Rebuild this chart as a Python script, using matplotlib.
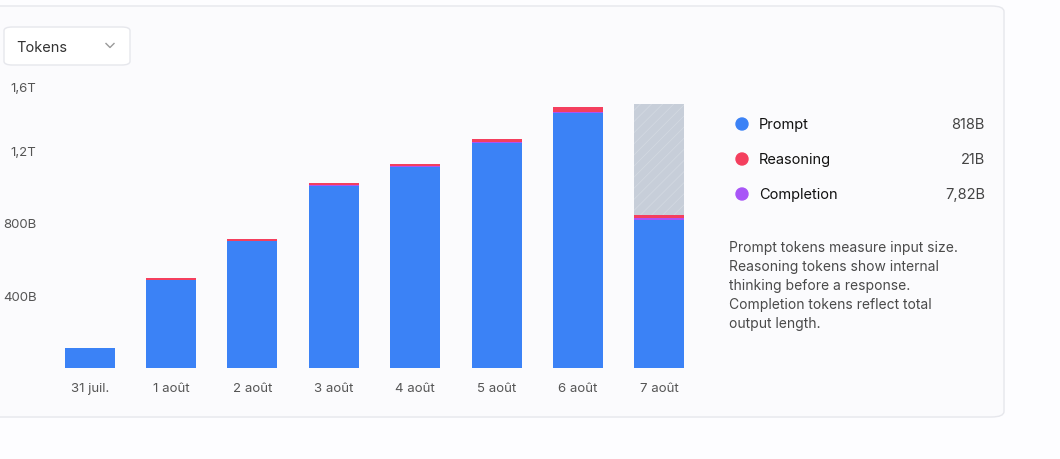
import numpy as np
import matplotlib.pyplot as plt
from matplotlib.patches import FancyBboxPatch, Ellipse
from matplotlib.transforms import ScaledTranslation

plt.rcParams['font.family'] = ['Inter', 'DejaVu Sans']

days = ["31 juil.", "1 août", "2 août", "3 août", "4 août", "5 août", "6 août", "7 août"]
prompt = [110, 483, 700, 1005, 1108, 1240, 1405, 818]        # billions
reasoning = [2, 9, 10, 12, 15, 20, 27, 21]
completion = [1, 2, 3, 4, 4, 5, 6, 7.82]
projected_total = [0, 0, 0, 0, 0, 0, 0, 1455]              # forecast for current day

y_ticks = [400, 800, 1200, 1600]
y_labels = ["400B", "800B", "1,2T", "1,6T"]

legend_names = ["Prompt", "Reasoning", "Completion"]
legend_values = ["818B", "21B", "7,82B"]
legend_colors = ["#3b82f6", "#f43f5e", "#a855f7"]

description = ("Prompt tokens measure input size.\n"
               "Reasoning tokens show internal\n"
               "thinking before a response.\n"
               "Completion tokens reflect total\n"
               "output length.")

W, H = 1060, 460
fig = plt.figure(figsize=(W / 100, H / 100), dpi=100)
fig.patch.set_facecolor("#fdfdff")

# card background
card = FancyBboxPatch((-20 / W, (H - 418) / H), 1024 / W, 411 / H,
                      boxstyle="round,pad=0,rounding_size=0.012",
                      transform=fig.transFigure, facecolor="#fbfbfd",
                      edgecolor="#e6e7ec", linewidth=1.0, zorder=-2)
fig.patches.append(card)

# dropdown
dd = FancyBboxPatch((4 / W, (H - 66) / H), 126 / W, 38 / H,
                    boxstyle="round,pad=0,rounding_size=0.008",
                    transform=fig.transFigure, facecolor="white",
                    edgecolor="#e6e7ec", linewidth=1.0, zorder=-1)
fig.patches.append(dd)
fig.text(16 / W, 1 - 48 / H, "Tokens", fontsize=10.5, color="#333333", va="center")
fig.lines.append(plt.Line2D([106 / W, 110 / W, 114 / W],
                            [1 - 44.5 / H, 1 - 48.5 / H, 1 - 44.5 / H],
                            transform=fig.transFigure, color="#9a9a9a", lw=1.0))

# chart axes
ax = fig.add_axes([49 / W, (H - 369) / H, 651 / W, 290 / H])
ax.set_facecolor("none")
x = np.arange(len(days))
bw = 0.615

prompt = np.array(prompt, dtype=float)
reasoning = np.array(reasoning, dtype=float)
completion = np.array(completion, dtype=float)
projected_total = np.array(projected_total, dtype=float)

ax.bar(x, prompt, bw, color=legend_colors[0], linewidth=0)
ax.bar(x, completion, bw, bottom=prompt, color=legend_colors[2], linewidth=0)
ax.bar(x, reasoning, bw, bottom=prompt + completion, color=legend_colors[1], linewidth=0)
done = prompt + completion + reasoning
rest = np.where(projected_total > 0, projected_total - done, 0)
plt.rcParams['hatch.linewidth'] = 0.6
ax.bar(x, rest, bw, bottom=done, color="#c7ced9", edgecolor="#d2d8e1",
       hatch="///", linewidth=0)

ax.set_xlim(-0.5, len(days) - 0.5)
ax.set_ylim(0, 1600)
ax.set_xticks(x)
ax.set_xticklabels(days)
ax.set_yticks(y_ticks)
ax.set_yticklabels(y_labels)
ax.tick_params(axis="both", length=0, labelsize=9.5, colors="#555555")
ax.tick_params(axis="y", pad=9)
ax.tick_params(axis="x", pad=10)
for s in ax.spines.values():
    s.set_visible(False)
# top label sits a little lower in the original
top_lbl = ax.get_yticklabels()[-1]
top_lbl.set_transform(top_lbl.get_transform() + ScaledTranslation(0, -8 / 100, fig.dpi_scale_trans))

# legend
for i, (name, val, col) in enumerate(zip(legend_names, legend_values, legend_colors)):
    yy = 1 - (125 + 35 * i) / H
    fig.patches.append(Ellipse((742 / W, yy), 12 / W, 12 / H, transform=fig.transFigure,
                               color=col, zorder=3))
    fig.text(759 / W, yy, name, fontsize=10.5, color="#111111", va="center")
    fig.text(985 / W, yy, val, fontsize=10.5, color="#444444", va="center", ha="right")

fig.text(729 / W, 1 - 241 / H, description, fontsize=10, color="#4a4a4a",
         va="top", ha="left", linespacing=1.45)

fig.savefig("out.png", dpi=100, facecolor=fig.get_facecolor())
